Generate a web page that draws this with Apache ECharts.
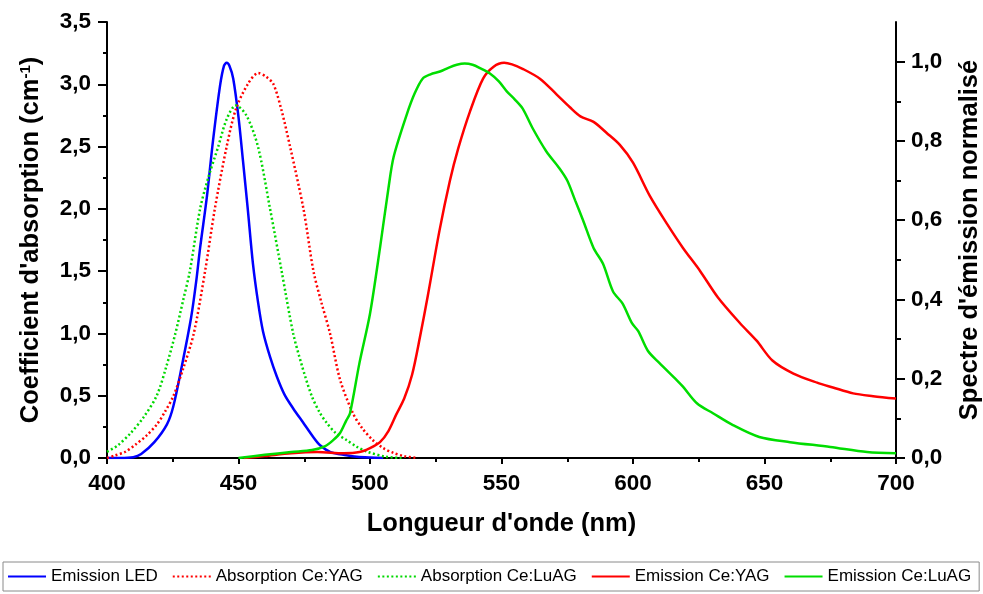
<!DOCTYPE html>
<html><head><meta charset="utf-8">
<script src="https://cdn.jsdelivr.net/npm/echarts@6/dist/echarts.min.js"></script>
<style>html,body{margin:0;padding:0;background:#fff}#c{width:983px;height:594px}</style>
</head><body><div id="c"></div>
<script>
// Emission LED (normalised, right axis)
const ledX = [400,405,410,413,418,422.8,425.2,428.4,432,434,435.4,438,440.3,443,444.5,445.5,446.5,448,450,451.7,453.5,455.5,457.5,459.3,462,464.6,467.5,470.8,474.5,478.4,481,485,491,495,500,505];
const ledY = [0,0,0.002,0.01,0.04,0.085,0.13,0.23,0.355,0.45,0.53,0.66,0.80,0.94,0.99,0.997,0.99,0.957,0.86,0.75,0.63,0.49,0.39,0.32,0.255,0.205,0.16,0.125,0.09,0.053,0.032,0.015,0.007,0.003,0.001,0];
// Absorption Ce:YAG (cm-1, left axis)
const absYagX = [400,403,407,411,415,419,422,425.3,429,433,437.3,441,445.5,449,453.5,457.5,460.5,463.3,466.5,469.6,474.7,478.5,481.5,484.8,488.6,493.5,497,501,505,509,513,518];
const absYagY = [0,0.02,0.05,0.11,0.18,0.27,0.37,0.5,0.72,1.0,1.5,2.0,2.5,2.8,3.0,3.09,3.06,3.0,2.78,2.5,2.0,1.5,1.25,1.0,0.63,0.36,0.24,0.145,0.08,0.04,0.015,0];
// Absorption Ce:LuAG (cm-1, left axis)
const absLuagX = [400,404,409,414,418.9,422.5,426,429,431.5,435.4,438.5,442.3,445.5,449,453,457.4,462,466.4,470.8,474,477.8,481,483.6,487,491,495,499,506,512];
const absLuagY = [0.05,0.1,0.2,0.33,0.5,0.73,1.0,1.27,1.5,2.0,2.25,2.5,2.72,2.83,2.75,2.5,2.0,1.5,1.0,0.75,0.5,0.36,0.28,0.2,0.145,0.09,0.05,0.01,0];
// Emission Ce:YAG (normalised, right axis)
const emYagX = [452,460,470,480,490,496,500,503.8,507,510,513,516,519,522,526.4,530.4,533.5,538,543,547,551,554,558,564.6,571,576,580,585,590,595,600,606.5,613,619,625.5,632.3,640.7,647,653,661,670,676,683.7,691.3,700];
const emYagY = [0,0.005,0.012,0.015,0.012,0.015,0.025,0.04,0.068,0.11,0.15,0.21,0.305,0.41,0.573,0.70,0.78,0.874,0.957,0.987,0.997,0.993,0.982,0.957,0.917,0.885,0.862,0.848,0.82,0.79,0.745,0.66,0.59,0.53,0.472,0.405,0.34,0.296,0.246,0.213,0.19,0.178,0.163,0.156,0.15];
// Emission Ce:LuAG (normalised, right axis)
const emLuagX = [450,460,470,478,483,486,488.6,491,492.4,496,500,503.8,507,509,514,517,520,523,526.6,530,533,536,539,542,545.6,549,552,555,558,562,567,572,575,578,581,585,588.6,592.4,596,599.6,602,605.7,610,616.7,619,624.3,630.4,638,648,659.7,675,689,700];
const emLuagY = [0,0.008,0.015,0.02,0.03,0.045,0.063,0.095,0.113,0.24,0.364,0.53,0.68,0.76,0.867,0.92,0.957,0.968,0.975,0.985,0.992,0.995,0.992,0.983,0.97,0.95,0.925,0.905,0.882,0.83,0.774,0.731,0.70,0.65,0.6,0.53,0.49,0.42,0.39,0.34,0.32,0.27,0.24,0.196,0.18,0.138,0.113,0.083,0.053,0.04,0.028,0.015,0.012];

const seriesNames = ['Emission LED','Absorption Ce:YAG','Absorption Ce:LuAG','Emission Ce:YAG','Emission Ce:LuAG'];
const xTicks = [400,450,500,550,600,650,700];
const rightMajor = [0,0.2,0.4,0.6,0.8,1.0];
const rightMinor = [0.1,0.3,0.5,0.7,0.9];

const zip = (xs, ys) => xs.map((x, i) => [x, ys[i]]);
const FONT = "'Liberation Sans', Arial, sans-serif";
const fmt = v => v.toFixed(1).replace('.', ',');
const axisLineStyle = {color: '#000', width: 2};
const labelStyle = {color: '#000', fontWeight: 'bold', fontSize: 22.5, fontFamily: FONT};
const titleStyle = {fontSize: 25.5, fontWeight: 'bold', color: '#000', fontFamily: FONT};

const chart = echarts.init(document.getElementById('c'), null, {renderer: 'canvas'});
chart.setOption({
  backgroundColor: '#fff',
  animation: false,
  textStyle: {fontFamily: FONT},
  grid: {left: 107, right: 87, top: 22, bottom: 136, containLabel: false, outerBoundsMode: 'none'},
  legend: {
    data: seriesNames,
    left: 3, top: 562,
    padding: [6, 8, 6, 4],
    itemGap: 14, itemWidth: 38, itemHeight: 12,
    itemStyle: {opacity: 0},
    borderColor: '#8a8a8a', borderWidth: 1,
    textStyle: {fontSize: 17, color: '#000', fontFamily: FONT}
  },
  xAxis: [{
    type: 'value', min: 400, max: 700, interval: 50, position: 'bottom',
    axisLine: {lineStyle: axisLineStyle},
    axisTick: {length: 6, lineStyle: {width: 2, color: '#000'}},
    minorTick: {show: true, splitNumber: 2, length: 4, lineStyle: {width: 2, color: '#000'}},
    splitLine: {show: false},
    axisLabel: Object.assign({margin: 14, customValues: xTicks}, labelStyle),
    name: "Longueur d'onde (nm)", nameLocation: 'middle', nameGap: 53,
    nameTextStyle: titleStyle
  }, {
    type: 'value', min: 400, max: 700, interval: 25, position: 'top',
    axisLine: {lineStyle: axisLineStyle},
    axisTick: {inside: true, length: 4, lineStyle: {width: 2, color: '#000'}},
    axisLabel: {show: false}, splitLine: {show: false}
  }],
  yAxis: [{
    type: 'value', min: 0, max: 3.5, interval: 0.5, position: 'left',
    axisLine: {show: true, lineStyle: axisLineStyle},
    axisTick: {show: true, length: 9, lineStyle: {width: 2, color: '#000'}},
    minorTick: {show: true, splitNumber: 2, length: 4, lineStyle: {width: 2, color: '#000'}},
    splitLine: {show: false},
    axisLabel: Object.assign({margin: 16, formatter: fmt}, labelStyle),
    name: "Coefficient d'absorption (cm{sup|-1})", nameLocation: 'middle', nameRotate: 90, nameGap: 63,
    nameTextStyle: Object.assign({}, titleStyle, {
      rich: {sup: {fontSize: 15, fontWeight: 'bold', color: '#000', verticalAlign: 'top', lineHeight: 15, padding: [0,0,10,0]}}})
  }, {
    type: 'value', min: 0, max: 1.1, position: 'right',
    axisLine: {show: true, lineStyle: axisLineStyle},
    axisTick: {show: true, length: 9, customValues: rightMajor, lineStyle: {width: 2, color: '#000'}},
    splitLine: {show: false},
    axisLabel: Object.assign({margin: 15, formatter: fmt, customValues: rightMajor}, labelStyle),
    name: "Spectre d'émission normalisé", nameLocation: 'middle', nameRotate: 90, nameGap: 61,
    nameTextStyle: titleStyle
  }, {
    type: 'value', min: 0, max: 1.1, position: 'right',
    axisLine: {show: false},
    axisTick: {show: true, length: 5, customValues: rightMinor, lineStyle: {width: 2, color: '#000'}},
    axisLabel: {show: false}, splitLine: {show: false}
  }],
  series: [
    {name: seriesNames[0], type: 'line', xAxisIndex: 0, yAxisIndex: 1, data: zip(ledX, ledY), smooth: 0.3, symbol: 'none', showSymbol: false, color: '#0000ff', lineStyle: {color: '#0000ff', width: 2.5}},
    {name: seriesNames[1], type: 'line', xAxisIndex: 0, yAxisIndex: 0, data: zip(absYagX, absYagY), smooth: 0.3, symbol: 'none', showSymbol: false, color: '#ff0000', lineStyle: {color: '#ff0000', width: 2.5, type: [2, 2.5]}},
    {name: seriesNames[2], type: 'line', xAxisIndex: 0, yAxisIndex: 0, data: zip(absLuagX, absLuagY), smooth: 0.3, symbol: 'none', showSymbol: false, color: '#00d800', lineStyle: {color: '#00d800', width: 2.5, type: [2, 2.5]}},
    {name: seriesNames[3], type: 'line', xAxisIndex: 0, yAxisIndex: 1, data: zip(emYagX, emYagY), smooth: 0.3, symbol: 'none', showSymbol: false, color: '#ff0000', lineStyle: {color: '#ff0000', width: 2.5}},
    {name: seriesNames[4], type: 'line', xAxisIndex: 0, yAxisIndex: 1, data: zip(emLuagX, emLuagY), smooth: 0.3, symbol: 'none', showSymbol: false, color: '#00dd00', lineStyle: {color: '#00dd00', width: 2.5}}
  ]
});
</script>
</body></html>
